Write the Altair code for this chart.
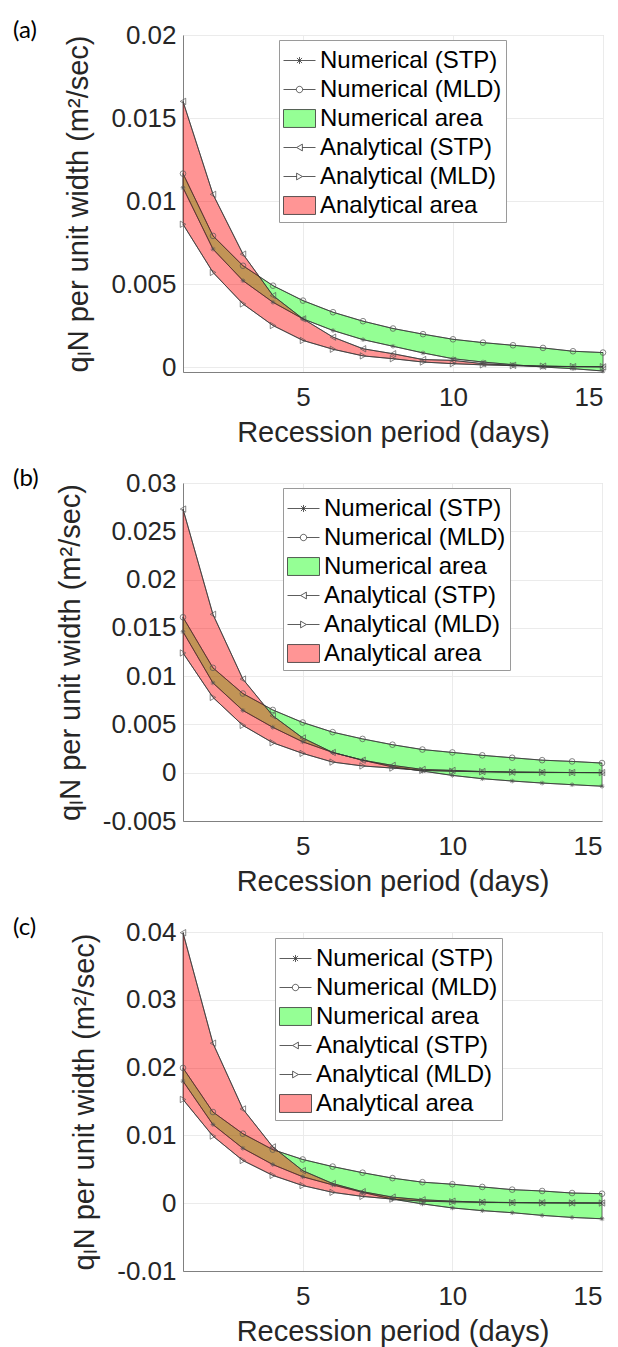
import altair as alt
import pandas as pd

days = list(range(1, 16))

# Panel (a)
num_stp_a = [0.0108, 0.0071, 0.0052, 0.0039, 0.0029, 0.0022, 0.00165, 0.00125, 0.00085, 0.0005, 0.0003, 0.00014, 0.0, -0.0001, -0.00024]
num_mld_a = [0.01165, 0.0079, 0.0061, 0.0049, 0.0040, 0.0033, 0.00276, 0.00232, 0.00198, 0.00167, 0.00147, 0.00131, 0.00115, 0.00095, 0.00087]
ana_stp_a = [0.0160, 0.0104, 0.0068, 0.0043, 0.0029, 0.0018, 0.0011, 0.0008, 0.00045, 0.0004, 0.0002, 0.0001, 0.00005, 0.00002, 0.00001]
ana_mld_a = [0.0086, 0.0057, 0.0038, 0.0025, 0.0016, 0.00107, 0.00067, 0.0005, 0.0003, 0.0002, 0.00013, 0.00008, 0.00005, 0.00003, 0.00002]

# Panel (b)
num_stp_b = [0.0146, 0.0093, 0.00645, 0.0047, 0.0032, 0.0021, 0.0013, 0.0006, 0.00017, -0.00028, -0.00062, -0.00086, -0.00107, -0.00124, -0.0014]
num_mld_b = [0.0161, 0.01086, 0.0082, 0.0065, 0.0052, 0.0042, 0.0035, 0.0029, 0.0024, 0.0021, 0.0018, 0.00155, 0.0013, 0.00117, 0.0010]
ana_stp_b = [0.0273, 0.0164, 0.0097, 0.0059, 0.0036, 0.0021, 0.0013, 0.00076, 0.00034, 0.00024, 0.00012, 0.00006, 0.00003, 0.00002, 0.00001]
ana_mld_b = [0.0124, 0.0078, 0.0049, 0.0031, 0.0020, 0.0011, 0.0007, 0.00048, 0.00024, 0.00015, 0.0001, 0.00006, 0.00004, 0.00002, 0.00001]

# Panel (c)
num_stp_c = [0.0180, 0.0116, 0.0081, 0.0057, 0.0039, 0.0027, 0.0016, 0.0006, -0.0001, -0.0007, -0.0011, -0.0014, -0.0018, -0.0021, -0.0023]
num_mld_c = [0.01995, 0.01345, 0.01025, 0.0079, 0.00645, 0.0054, 0.0045, 0.0037, 0.0031, 0.0028, 0.0024, 0.0020, 0.0018, 0.0015, 0.0014]
ana_stp_c = [0.0399, 0.0236, 0.0139, 0.0083, 0.0048, 0.0029, 0.0017, 0.0009, 0.0005, 0.0003, 0.00015, 0.0001, 0.00007, 0.00005, 0.00003]
ana_mld_c = [0.0153, 0.0099, 0.0063, 0.0041, 0.0026, 0.0016, 0.0010, 0.0006, 0.0003, 0.0002, 0.00013, 0.00008, 0.00005, 0.00003, 0.00002]

y_ticks_a = [0, 0.005, 0.01, 0.015, 0.02]
y_ticks_b = [-0.005, 0, 0.005, 0.01, 0.015, 0.02, 0.025, 0.03]
y_ticks_c = [-0.01, 0, 0.01, 0.02, 0.03, 0.04]
x_ticks = [5, 10, 15]

LABELS = ["Numerical (STP)", "Numerical (MLD)", "Numerical area",
          "Analytical (STP)", "Analytical (MLD)", "Analytical area"]

FONT = "Liberation Sans"
GREEN = "#00ff00"
RED = "#ff0000"
ALPHA = 0.42
GREEN_LEG = "#95ff95"
RED_LEG = "#ff9595"
LINE = "#333333"
MARK = "#555555"

STAR = "M-1,0L1,0M0,-1L0,1M-0.71,-0.71L0.71,0.71M-0.71,0.71L0.71,-0.71"

LEG_PATHS = [
    "M-1,0H1M0,-0.22V0.22M-0.16,-0.16L0.16,0.16M-0.16,0.16L0.16,-0.16",
    "M-1,0H-0.2M0.2,0H1M-0.2,0A0.2,0.2,0,1,1,0.2,0A0.2,0.2,0,1,1,-0.2,0Z",
    "M-1,-0.56H1V0.56H-1Z",
    "M-1,0H-0.18M0.18,0H1M-0.18,0L0.18,-0.21L0.18,0.21Z",
    "M-1,0H-0.18M0.18,0H1M0.18,0L-0.18,-0.21L-0.18,0.21Z",
    "M-1,-0.56H1V0.56H-1Z",
]
LEG_FILLS = ["white", "white", GREEN_LEG, "white", "white", RED_LEG]


def panel(tag, ns, nm, a_s, a_m, ydom, yvals, width, height, lx, ly):
    df = pd.DataFrame({"day": days, "ns": ns, "nm": nm, "as": a_s, "am": a_m})
    xscale = alt.Scale(domain=[1, 15], nice=False, zero=False)
    xaxis = alt.Axis(values=x_ticks, title="Recession period (days)")
    yscale = alt.Scale(domain=ydom, nice=False, zero=False)
    yaxis = alt.Axis(values=yvals, labelExpr="'' + datum.value",
                     title="qₗN per unit width (m²/sec)")

    def X():
        return alt.X("day:Q", scale=xscale, axis=xaxis)

    def Y(f):
        return alt.Y(f + ":Q", scale=yscale, axis=yaxis)

    base = alt.Chart(df)
    green = base.mark_area(fill=GREEN, fillOpacity=ALPHA, stroke=LINE, strokeWidth=0.7).encode(
        x=X(), y=Y("ns"), y2="nm:Q")
    red = base.mark_area(fill=RED, fillOpacity=ALPHA, stroke=LINE, strokeWidth=0.7).encode(
        x=X(), y=Y("as"), y2="am:Q")
    layers = [green, red]
    for field, shape, size in [("ns", STAR, 22), ("nm", "circle", 32),
                               ("as", "triangle-left", 40), ("am", "triangle-right", 40)]:
        layers.append(base.mark_line(stroke=LINE, strokeWidth=0.7).encode(x=X(), y=Y(field)))
        layers.append(base.mark_point(shape=shape, size=size, filled=False, stroke=MARK,
                                      strokeWidth=0.7, opacity=1).encode(x=X(), y=Y(field)))

    leg = alt.Legend(orient="none", legendX=lx, legendY=ly, title=None,
                     labelFont=FONT, labelFontSize=24, labelColor="black",
                     labelOffset=4, labelLimit=400,
                     symbolSize=1024, symbolStrokeWidth=0.8,
                     fillColor="white", strokeColor="#9a9a9a",
                     padding=4, rowPadding=0)
    leg_df = pd.DataFrame({"label": LABELS})
    legend_layer = alt.Chart(leg_df).mark_point(filled=True, opacity=1, size=1024, strokeWidth=0.8).encode(
        shape=alt.Shape("label:N", scale=alt.Scale(domain=LABELS, range=LEG_PATHS), legend=leg),
        fill=alt.Fill("label:N", scale=alt.Scale(domain=LABELS, range=LEG_FILLS), legend=leg),
        stroke=alt.Stroke("label:N", scale=alt.Scale(domain=LABELS, range=[LINE] * 6), legend=leg),
    ).transform_filter("false")
    layers.append(legend_layer)

    return alt.layer(*layers).properties(
        width=width, height=height,
        title=alt.TitleParams(text=tag, anchor="start", frame="group", dx=-170, dy=33,
                              baseline="middle", offset=0, fontSize=24, font="Lato",
                              fontWeight="normal", color="black"),
    )


pa = panel("(a)", num_stp_a, num_mld_a, ana_stp_a, ana_mld_a, [-0.0003, 0.02], y_ticks_a,
           420, 337, 96, 5)
pb = panel("(b)", num_stp_b, num_mld_b, ana_stp_b, ana_mld_b, [-0.005, 0.03], y_ticks_b,
           419, 338, 100, 5)
pc = panel("(c)", num_stp_c, num_mld_c, ana_stp_c, ana_mld_c, [-0.01, 0.04], y_ticks_c,
           419, 339, 92, 6)

chart = alt.concat(pa, pb, pc, columns=1, spacing=18).properties(
    padding={"left": 12, "top": 18, "right": 0, "bottom": 0},
    background="white",
).resolve_scale(
    x="independent", y="independent", shape="independent", fill="independent", stroke="independent"
).configure_view(
    stroke="#cfcfcf"
).configure_axis(
    labelFont=FONT, titleFont=FONT, labelFontSize=26, titleFontSize=29,
    labelColor="#262626", titleColor="#262626", titleFontWeight="normal",
    domainColor="#808080", gridColor="#ebebeb", ticks=False,
).configure_axisX(
    labelPadding=12, titlePadding=8,
).configure_axisY(
    labelPadding=7, titlePadding=17,
)

chart.save("out.html", embed_options={"renderer": "svg", "actions": False})
